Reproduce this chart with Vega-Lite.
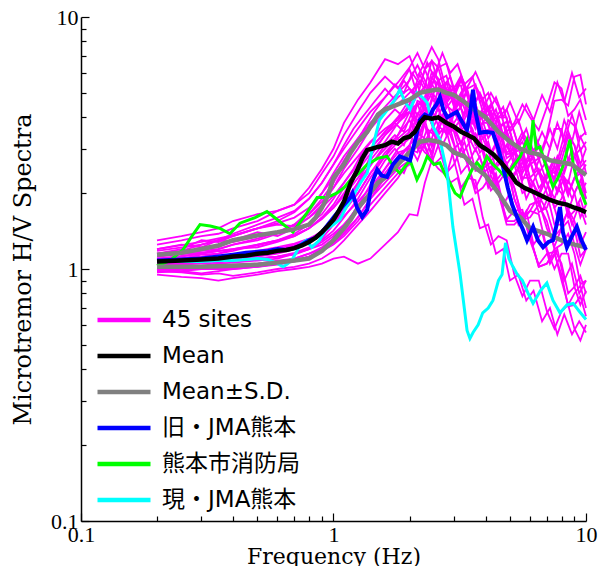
{
"$schema":"https://vega.github.io/schema/vega-lite/v6.json",
"width":505,"height":504,
"autosize":{"type":"none"},
"padding":{"left":81,"top":17,"right":20,"bottom":45},
"background":"white",
"config":{"view":{"stroke":null},
"axis":{"labelFont":"Liberation Serif","labelFontSize":22,"labelColor":"black","titleFont":"DejaVu Serif","titleFontWeight":"normal","titleColor":"black","domainColor":"black","domainWidth":1.5,"tickColor":"black","tickWidth":1.2,"grid":false,"labelOverlap":false,"labelBound":false,"labelFlush":false}},
"datasets":{
"sites":[
{"id":1,"f":0.2,"v":1.25},{"id":1,"f":0.25,"v":1.3},{"id":1,"f":0.3,"v":1.35},{"id":1,"f":0.35,"v":1.38},{"id":1,"f":0.4,"v":1.45},{"id":1,"f":0.5,"v":1.55},{"id":1,"f":0.6,"v":1.7},{"id":1,"f":0.7,"v":1.8},{"id":1,"f":0.8,"v":2.0},{"id":1,"f":0.9,"v":2.4},{"id":1,"f":1,"v":2.8},{"id":1,"f":1.1,"v":3.4},{"id":1,"f":1.25,"v":4.2},{"id":1,"f":1.4,"v":5.0},{"id":1,"f":1.6,"v":5.8},{"id":1,"f":1.8,"v":5.2},{"id":1,"f":2,"v":6.2},{"id":1,"f":2.3,"v":5.3},{"id":1,"f":2.6,"v":6.3},{"id":1,"f":3,"v":5.0},{"id":1,"f":3.4,"v":5.1},{"id":1,"f":3.9,"v":4.0},{"id":1,"f":4.5,"v":3.8},{"id":1,"f":5.2,"v":2.9},{"id":1,"f":6,"v":2.9},{"id":1,"f":7,"v":2.7},{"id":1,"f":8,"v":3.6},{"id":1,"f":9,"v":2.8},{"id":1,"f":10,"v":3.0},
{"id":2,"f":0.2,"v":0.98},{"id":2,"f":0.25,"v":0.97},{"id":2,"f":0.3,"v":0.95},{"id":2,"f":0.35,"v":0.96},{"id":2,"f":0.4,"v":0.94},{"id":2,"f":0.5,"v":0.97},{"id":2,"f":0.6,"v":1.0},{"id":2,"f":0.7,"v":1.02},{"id":2,"f":0.8,"v":1.05},{"id":2,"f":0.9,"v":1.1},{"id":2,"f":1,"v":1.18},{"id":2,"f":1.1,"v":1.3},{"id":2,"f":1.25,"v":1.5},{"id":2,"f":1.4,"v":1.7},{"id":2,"f":1.6,"v":2.0},{"id":2,"f":1.8,"v":2.3},{"id":2,"f":2,"v":2.7},{"id":2,"f":2.3,"v":2.9},{"id":2,"f":2.6,"v":3.6},{"id":2,"f":3,"v":3.6},{"id":2,"f":3.4,"v":3.7},{"id":2,"f":3.9,"v":3.0},{"id":2,"f":4.5,"v":2.7},{"id":2,"f":5.2,"v":1.9},{"id":2,"f":6,"v":1.7},{"id":2,"f":7,"v":1.2},{"id":2,"f":8,"v":1.15},{"id":2,"f":9,"v":0.85},{"id":2,"f":10,"v":0.82},
{"id":3,"f":0.2,"v":1.12},{"id":3,"f":0.25,"v":1.15},{"id":3,"f":0.3,"v":1.2},{"id":3,"f":0.35,"v":1.22},{"id":3,"f":0.4,"v":1.3},{"id":3,"f":0.5,"v":1.4},{"id":3,"f":0.6,"v":1.35},{"id":3,"f":0.7,"v":1.45},{"id":3,"f":0.8,"v":1.6},{"id":3,"f":0.9,"v":1.8},{"id":3,"f":1,"v":2.1},{"id":3,"f":1.1,"v":2.5},{"id":3,"f":1.25,"v":3.0},{"id":3,"f":1.4,"v":3.6},{"id":3,"f":1.6,"v":4.2},{"id":3,"f":1.8,"v":4.8},{"id":3,"f":2,"v":5.2},{"id":3,"f":2.3,"v":6.2},{"id":3,"f":2.6,"v":5.5},{"id":3,"f":3,"v":5.3},{"id":3,"f":3.4,"v":4.0},{"id":3,"f":3.9,"v":3.8},{"id":3,"f":4.5,"v":2.8},{"id":3,"f":5.2,"v":2.7},{"id":3,"f":6,"v":2.1},{"id":3,"f":7,"v":2.1},{"id":3,"f":8,"v":2.3},{"id":3,"f":9,"v":2.3},{"id":3,"f":10,"v":1.9},
{"id":4,"f":0.2,"v":1.05},{"id":4,"f":0.25,"v":1.06},{"id":4,"f":0.3,"v":1.08},{"id":4,"f":0.35,"v":1.1},{"id":4,"f":0.4,"v":1.1},{"id":4,"f":0.5,"v":1.12},{"id":4,"f":0.6,"v":1.15},{"id":4,"f":0.7,"v":1.2},{"id":4,"f":0.8,"v":1.28},{"id":4,"f":0.9,"v":1.4},{"id":4,"f":1,"v":1.55},{"id":4,"f":1.1,"v":1.7},{"id":4,"f":1.25,"v":2.0},{"id":4,"f":1.4,"v":2.4},{"id":4,"f":1.6,"v":2.8},{"id":4,"f":1.8,"v":3.2},{"id":4,"f":2,"v":3.5},{"id":4,"f":2.3,"v":4.4},{"id":4,"f":2.6,"v":4.4},{"id":4,"f":3,"v":4.6},{"id":4,"f":3.4,"v":3.8},{"id":4,"f":3.9,"v":3.6},{"id":4,"f":4.5,"v":2.8},{"id":4,"f":5.2,"v":2.6},{"id":4,"f":6,"v":2.1},{"id":4,"f":7,"v":2.2},{"id":4,"f":8,"v":1.9},{"id":4,"f":9,"v":2.0},{"id":4,"f":10,"v":1.8},
{"id":5,"f":0.2,"v":1.1},{"id":5,"f":0.25,"v":1.12},{"id":5,"f":0.3,"v":1.15},{"id":5,"f":0.35,"v":1.2},{"id":5,"f":0.4,"v":1.25},{"id":5,"f":0.5,"v":1.3},{"id":5,"f":0.6,"v":1.38},{"id":5,"f":0.7,"v":1.5},{"id":5,"f":0.8,"v":1.65},{"id":5,"f":0.9,"v":1.85},{"id":5,"f":1,"v":2.1},{"id":5,"f":1.1,"v":2.4},{"id":5,"f":1.25,"v":2.8},{"id":5,"f":1.4,"v":3.2},{"id":5,"f":1.6,"v":3.6},{"id":5,"f":1.8,"v":3.9},{"id":5,"f":2,"v":4.5},{"id":5,"f":2.3,"v":4.6},{"id":5,"f":2.6,"v":5.4},{"id":5,"f":3,"v":4.8},{"id":5,"f":3.4,"v":4.9},{"id":5,"f":3.9,"v":4.3},{"id":5,"f":4.5,"v":4.4},{"id":5,"f":5.2,"v":3.8},{"id":5,"f":6,"v":4.0},{"id":5,"f":7,"v":4.4},{"id":5,"f":8,"v":5.2},{"id":5,"f":9,"v":4.3},{"id":5,"f":10,"v":3.9},
{"id":6,"f":0.2,"v":1.0},{"id":6,"f":0.25,"v":1.02},{"id":6,"f":0.3,"v":1.03},{"id":6,"f":0.35,"v":1.05},{"id":6,"f":0.4,"v":1.06},{"id":6,"f":0.5,"v":1.08},{"id":6,"f":0.6,"v":1.1},{"id":6,"f":0.7,"v":1.15},{"id":6,"f":0.8,"v":1.2},{"id":6,"f":0.9,"v":1.32},{"id":6,"f":1,"v":1.5},{"id":6,"f":1.1,"v":1.75},{"id":6,"f":1.25,"v":2.2},{"id":6,"f":1.4,"v":2.8},{"id":6,"f":1.6,"v":3.4},{"id":6,"f":1.8,"v":3.8},{"id":6,"f":2,"v":4.2},{"id":6,"f":2.3,"v":3.7},{"id":6,"f":2.6,"v":3.5},{"id":6,"f":3,"v":2.7},{"id":6,"f":3.4,"v":2.3},{"id":6,"f":3.9,"v":1.6},{"id":6,"f":4.5,"v":1.35},{"id":6,"f":5.2,"v":0.95},{"id":6,"f":6,"v":0.9},{"id":6,"f":7,"v":0.68},{"id":6,"f":8,"v":0.68},{"id":6,"f":9,"v":0.58},{"id":6,"f":10,"v":0.6},
{"id":7,"f":0.2,"v":1.15},{"id":7,"f":0.25,"v":1.2},{"id":7,"f":0.3,"v":1.3},{"id":7,"f":0.35,"v":1.28},{"id":7,"f":0.4,"v":1.35},{"id":7,"f":0.5,"v":1.45},{"id":7,"f":0.6,"v":1.5},{"id":7,"f":0.7,"v":1.48},{"id":7,"f":0.8,"v":1.6},{"id":7,"f":0.9,"v":1.75},{"id":7,"f":1,"v":1.95},{"id":7,"f":1.1,"v":2.2},{"id":7,"f":1.25,"v":2.6},{"id":7,"f":1.4,"v":3.0},{"id":7,"f":1.6,"v":3.5},{"id":7,"f":1.8,"v":4.0},{"id":7,"f":2,"v":4.2},{"id":7,"f":2.3,"v":4.4},{"id":7,"f":2.6,"v":4.3},{"id":7,"f":3,"v":4.2},{"id":7,"f":3.4,"v":3.4},{"id":7,"f":3.9,"v":3.5},{"id":7,"f":4.5,"v":2.8},{"id":7,"f":5.2,"v":2.7},{"id":7,"f":6,"v":2.3},{"id":7,"f":7,"v":2.3},{"id":7,"f":8,"v":2.4},{"id":7,"f":9,"v":2.8},{"id":7,"f":10,"v":2.4},
{"id":8,"f":0.2,"v":1.03},{"id":8,"f":0.25,"v":1.04},{"id":8,"f":0.3,"v":1.05},{"id":8,"f":0.35,"v":1.06},{"id":8,"f":0.4,"v":1.08},{"id":8,"f":0.5,"v":1.1},{"id":8,"f":0.6,"v":1.12},{"id":8,"f":0.7,"v":1.16},{"id":8,"f":0.8,"v":1.22},{"id":8,"f":0.9,"v":1.3},{"id":8,"f":1,"v":1.42},{"id":8,"f":1.1,"v":1.6},{"id":8,"f":1.25,"v":1.9},{"id":8,"f":1.4,"v":2.3},{"id":8,"f":1.6,"v":2.8},{"id":8,"f":1.8,"v":3.4},{"id":8,"f":2,"v":4.2},{"id":8,"f":2.3,"v":4.4},{"id":8,"f":2.6,"v":5.2},{"id":8,"f":3,"v":4.4},{"id":8,"f":3.4,"v":4.2},{"id":8,"f":3.9,"v":3.0},{"id":8,"f":4.5,"v":2.6},{"id":8,"f":5.2,"v":1.9},{"id":8,"f":6,"v":1.8},{"id":8,"f":7,"v":1.45},{"id":8,"f":8,"v":1.45},{"id":8,"f":9,"v":1.25},{"id":8,"f":10,"v":1.2},
{"id":9,"f":0.2,"v":0.95},{"id":9,"f":0.25,"v":0.93},{"id":9,"f":0.3,"v":0.92},{"id":9,"f":0.35,"v":0.9},{"id":9,"f":0.4,"v":0.92},{"id":9,"f":0.5,"v":0.95},{"id":9,"f":0.6,"v":0.98},{"id":9,"f":0.7,"v":1.0},{"id":9,"f":0.8,"v":1.02},{"id":9,"f":0.9,"v":1.05},{"id":9,"f":1,"v":1.1},{"id":9,"f":1.1,"v":1.12},{"id":9,"f":1.25,"v":1.05},{"id":9,"f":1.4,"v":1.1},{"id":9,"f":1.6,"v":1.25},{"id":9,"f":1.8,"v":1.4},{"id":9,"f":2,"v":1.65},{"id":9,"f":2.3,"v":2.2},{"id":9,"f":2.6,"v":2.5},{"id":9,"f":3,"v":3.0},{"id":9,"f":3.4,"v":2.6},{"id":9,"f":3.9,"v":2.4},{"id":9,"f":4.5,"v":2.0},{"id":9,"f":5.2,"v":1.7},{"id":9,"f":6,"v":1.3},{"id":9,"f":7,"v":1.15},{"id":9,"f":8,"v":0.9},{"id":9,"f":9,"v":0.8},{"id":9,"f":10,"v":0.7},
{"id":10,"f":0.2,"v":1.2},{"id":10,"f":0.25,"v":1.25},{"id":10,"f":0.3,"v":1.22},{"id":10,"f":0.35,"v":1.3},{"id":10,"f":0.4,"v":1.38},{"id":10,"f":0.5,"v":1.5},{"id":10,"f":0.6,"v":1.6},{"id":10,"f":0.7,"v":1.7},{"id":10,"f":0.8,"v":1.9},{"id":10,"f":0.9,"v":2.2},{"id":10,"f":1,"v":2.6},{"id":10,"f":1.1,"v":3.0},{"id":10,"f":1.25,"v":3.6},{"id":10,"f":1.4,"v":4.2},{"id":10,"f":1.6,"v":4.8},{"id":10,"f":1.8,"v":5.5},{"id":10,"f":2,"v":6.3},{"id":10,"f":2.3,"v":6.2},{"id":10,"f":2.6,"v":6.3},{"id":10,"f":3,"v":5.1},{"id":10,"f":3.4,"v":5.2},{"id":10,"f":3.9,"v":4.2},{"id":10,"f":4.5,"v":4.0},{"id":10,"f":5.2,"v":3.0},{"id":10,"f":6,"v":2.9},{"id":10,"f":7,"v":2.5},{"id":10,"f":8,"v":2.9},{"id":10,"f":9,"v":3.1},{"id":10,"f":10,"v":3.0},
{"id":11,"f":0.2,"v":1.08},{"id":11,"f":0.25,"v":1.1},{"id":11,"f":0.3,"v":1.1},{"id":11,"f":0.35,"v":1.12},{"id":11,"f":0.4,"v":1.14},{"id":11,"f":0.5,"v":1.18},{"id":11,"f":0.6,"v":1.22},{"id":11,"f":0.7,"v":1.26},{"id":11,"f":0.8,"v":1.32},{"id":11,"f":0.9,"v":1.4},{"id":11,"f":1,"v":1.5},{"id":11,"f":1.1,"v":1.62},{"id":11,"f":1.25,"v":1.85},{"id":11,"f":1.4,"v":2.1},{"id":11,"f":1.6,"v":2.5},{"id":11,"f":1.8,"v":2.9},{"id":11,"f":2,"v":3.0},{"id":11,"f":2.3,"v":3.8},{"id":11,"f":2.6,"v":3.7},{"id":11,"f":3,"v":4.4},{"id":11,"f":3.4,"v":4.3},{"id":11,"f":3.9,"v":4.2},{"id":11,"f":4.5,"v":3.2},{"id":11,"f":5.2,"v":2.9},{"id":11,"f":6,"v":2.3},{"id":11,"f":7,"v":2.4},{"id":11,"f":8,"v":2.4},{"id":11,"f":9,"v":2.3},{"id":11,"f":10,"v":2.0},
{"id":12,"f":0.2,"v":1.02},{"id":12,"f":0.25,"v":1.0},{"id":12,"f":0.3,"v":1.0},{"id":12,"f":0.35,"v":1.02},{"id":12,"f":0.4,"v":1.04},{"id":12,"f":0.5,"v":1.05},{"id":12,"f":0.6,"v":1.08},{"id":12,"f":0.7,"v":1.1},{"id":12,"f":0.8,"v":1.15},{"id":12,"f":0.9,"v":1.2},{"id":12,"f":1,"v":1.28},{"id":12,"f":1.1,"v":1.4},{"id":12,"f":1.25,"v":1.6},{"id":12,"f":1.4,"v":1.9},{"id":12,"f":1.6,"v":2.2},{"id":12,"f":1.8,"v":2.5},{"id":12,"f":2,"v":2.7},{"id":12,"f":2.3,"v":3.3},{"id":12,"f":2.6,"v":3.5},{"id":12,"f":3,"v":4.2},{"id":12,"f":3.4,"v":4.6},{"id":12,"f":3.9,"v":4.7},{"id":12,"f":4.5,"v":3.6},{"id":12,"f":5.2,"v":3.1},{"id":12,"f":6,"v":2.3},{"id":12,"f":7,"v":2.0},{"id":12,"f":8,"v":1.5},{"id":12,"f":9,"v":1.45},{"id":12,"f":10,"v":1.2},
{"id":13,"f":0.2,"v":1.1},{"id":13,"f":0.25,"v":1.1},{"id":13,"f":0.3,"v":1.12},{"id":13,"f":0.35,"v":1.15},{"id":13,"f":0.4,"v":1.18},{"id":13,"f":0.5,"v":1.25},{"id":13,"f":0.6,"v":1.3},{"id":13,"f":0.7,"v":1.35},{"id":13,"f":0.8,"v":1.45},{"id":13,"f":0.9,"v":1.6},{"id":13,"f":1,"v":1.8},{"id":13,"f":1.1,"v":2.1},{"id":13,"f":1.25,"v":2.5},{"id":13,"f":1.4,"v":3.0},{"id":13,"f":1.6,"v":3.5},{"id":13,"f":1.8,"v":4.0},{"id":13,"f":2,"v":4.7},{"id":13,"f":2.3,"v":4.8},{"id":13,"f":2.6,"v":5.7},{"id":13,"f":3,"v":5.0},{"id":13,"f":3.4,"v":4.8},{"id":13,"f":3.9,"v":3.8},{"id":13,"f":4.5,"v":3.6},{"id":13,"f":5.2,"v":2.9},{"id":13,"f":6,"v":2.7},{"id":13,"f":7,"v":2.3},{"id":13,"f":8,"v":2.1},{"id":13,"f":9,"v":1.7},{"id":13,"f":10,"v":1.6},
{"id":14,"f":0.2,"v":1.04},{"id":14,"f":0.25,"v":1.05},{"id":14,"f":0.3,"v":1.06},{"id":14,"f":0.35,"v":1.08},{"id":14,"f":0.4,"v":1.1},{"id":14,"f":0.5,"v":1.1},{"id":14,"f":0.6,"v":1.12},{"id":14,"f":0.7,"v":1.14},{"id":14,"f":0.8,"v":1.2},{"id":14,"f":0.9,"v":1.25},{"id":14,"f":1,"v":1.35},{"id":14,"f":1.1,"v":1.5},{"id":14,"f":1.25,"v":1.75},{"id":14,"f":1.4,"v":2.0},{"id":14,"f":1.6,"v":2.5},{"id":14,"f":1.8,"v":3.0},{"id":14,"f":2,"v":3.3},{"id":14,"f":2.3,"v":3.9},{"id":14,"f":2.6,"v":3.4},{"id":14,"f":3,"v":3.1},{"id":14,"f":3.4,"v":2.6},{"id":14,"f":3.9,"v":2.6},{"id":14,"f":4.5,"v":2.2},{"id":14,"f":5.2,"v":2.1},{"id":14,"f":6,"v":1.7},{"id":14,"f":7,"v":1.7},{"id":14,"f":8,"v":1.45},{"id":14,"f":9,"v":1.55},{"id":14,"f":10,"v":1.4},
{"id":15,"f":0.2,"v":1.3},{"id":15,"f":0.25,"v":1.35},{"id":15,"f":0.3,"v":1.4},{"id":15,"f":0.35,"v":1.45},{"id":15,"f":0.4,"v":1.55},{"id":15,"f":0.5,"v":1.65},{"id":15,"f":0.6,"v":1.7},{"id":15,"f":0.7,"v":1.8},{"id":15,"f":0.8,"v":2.1},{"id":15,"f":0.9,"v":2.5},{"id":15,"f":1,"v":3.0},{"id":15,"f":1.1,"v":3.8},{"id":15,"f":1.25,"v":4.7},{"id":15,"f":1.4,"v":5.5},{"id":15,"f":1.6,"v":6.8},{"id":15,"f":1.8,"v":6.5},{"id":15,"f":2,"v":7.0},{"id":15,"f":2.3,"v":6.6},{"id":15,"f":2.6,"v":6.8},{"id":15,"f":3,"v":5.2},{"id":15,"f":3.4,"v":5.0},{"id":15,"f":3.9,"v":4.0},{"id":15,"f":4.5,"v":3.8},{"id":15,"f":5.2,"v":3.0},{"id":15,"f":6,"v":3.1},{"id":15,"f":7,"v":3.4},{"id":15,"f":8,"v":4.7},{"id":15,"f":9,"v":5.8},{"id":15,"f":10,"v":4.5},
{"id":16,"f":0.2,"v":1.0},{"id":16,"f":0.25,"v":0.98},{"id":16,"f":0.3,"v":0.96},{"id":16,"f":0.35,"v":0.98},{"id":16,"f":0.4,"v":1.0},{"id":16,"f":0.5,"v":1.02},{"id":16,"f":0.6,"v":1.05},{"id":16,"f":0.7,"v":1.08},{"id":16,"f":0.8,"v":1.12},{"id":16,"f":0.9,"v":1.18},{"id":16,"f":1,"v":1.25},{"id":16,"f":1.1,"v":1.35},{"id":16,"f":1.25,"v":1.55},{"id":16,"f":1.4,"v":1.8},{"id":16,"f":1.6,"v":2.1},{"id":16,"f":1.8,"v":2.4},{"id":16,"f":2,"v":2.6},{"id":16,"f":2.3,"v":3.1},{"id":16,"f":2.6,"v":3.1},{"id":16,"f":3,"v":3.5},{"id":16,"f":3.4,"v":3.1},{"id":16,"f":3.9,"v":2.9},{"id":16,"f":4.5,"v":2.3},{"id":16,"f":5.2,"v":2.1},{"id":16,"f":6,"v":1.6},{"id":16,"f":7,"v":1.55},{"id":16,"f":8,"v":1.25},{"id":16,"f":9,"v":1.15},{"id":16,"f":10,"v":0.9},
{"id":17,"f":0.2,"v":1.08},{"id":17,"f":0.25,"v":1.1},{"id":17,"f":0.3,"v":1.14},{"id":17,"f":0.35,"v":1.15},{"id":17,"f":0.4,"v":1.2},{"id":17,"f":0.5,"v":1.22},{"id":17,"f":0.6,"v":1.28},{"id":17,"f":0.7,"v":1.35},{"id":17,"f":0.8,"v":1.45},{"id":17,"f":0.9,"v":1.6},{"id":17,"f":1,"v":1.75},{"id":17,"f":1.1,"v":1.95},{"id":17,"f":1.25,"v":2.3},{"id":17,"f":1.4,"v":2.7},{"id":17,"f":1.6,"v":3.2},{"id":17,"f":1.8,"v":3.8},{"id":17,"f":2,"v":4.4},{"id":17,"f":2.3,"v":4.4},{"id":17,"f":2.6,"v":5.0},{"id":17,"f":3,"v":4.2},{"id":17,"f":3.4,"v":4.0},{"id":17,"f":3.9,"v":3.3},{"id":17,"f":4.5,"v":3.0},{"id":17,"f":5.2,"v":2.4},{"id":17,"f":6,"v":2.2},{"id":17,"f":7,"v":1.75},{"id":17,"f":8,"v":2.0},{"id":17,"f":9,"v":2.0},{"id":17,"f":10,"v":1.9},
{"id":18,"f":0.2,"v":1.05},{"id":18,"f":0.25,"v":1.07},{"id":18,"f":0.3,"v":1.08},{"id":18,"f":0.35,"v":1.1},{"id":18,"f":0.4,"v":1.12},{"id":18,"f":0.5,"v":1.15},{"id":18,"f":0.6,"v":1.18},{"id":18,"f":0.7,"v":1.22},{"id":18,"f":0.8,"v":1.28},{"id":18,"f":0.9,"v":1.38},{"id":18,"f":1,"v":1.5},{"id":18,"f":1.1,"v":1.7},{"id":18,"f":1.25,"v":2.0},{"id":18,"f":1.4,"v":2.4},{"id":18,"f":1.6,"v":2.9},{"id":18,"f":1.8,"v":3.3},{"id":18,"f":2,"v":3.6},{"id":18,"f":2.3,"v":4.5},{"id":18,"f":2.6,"v":4.4},{"id":18,"f":3,"v":5.2},{"id":18,"f":3.4,"v":5.3},{"id":18,"f":3.9,"v":5.2},{"id":18,"f":4.5,"v":4.0},{"id":18,"f":5.2,"v":3.5},{"id":18,"f":6,"v":2.7},{"id":18,"f":7,"v":2.6},{"id":18,"f":8,"v":2.7},{"id":18,"f":9,"v":3.1},{"id":18,"f":10,"v":2.6},
{"id":19,"f":0.2,"v":0.97},{"id":19,"f":0.25,"v":0.98},{"id":19,"f":0.3,"v":1.0},{"id":19,"f":0.35,"v":1.0},{"id":19,"f":0.4,"v":1.02},{"id":19,"f":0.5,"v":1.04},{"id":19,"f":0.6,"v":1.06},{"id":19,"f":0.7,"v":1.1},{"id":19,"f":0.8,"v":1.15},{"id":19,"f":0.9,"v":1.22},{"id":19,"f":1,"v":1.32},{"id":19,"f":1.1,"v":1.45},{"id":19,"f":1.25,"v":1.7},{"id":19,"f":1.4,"v":2.0},{"id":19,"f":1.6,"v":2.4},{"id":19,"f":1.8,"v":2.8},{"id":19,"f":2,"v":3.1},{"id":19,"f":2.3,"v":3.2},{"id":19,"f":2.6,"v":3.1},{"id":19,"f":3,"v":2.6},{"id":19,"f":3.4,"v":2.6},{"id":19,"f":3.9,"v":2.1},{"id":19,"f":4.5,"v":2.0},{"id":19,"f":5.2,"v":1.5},{"id":19,"f":6,"v":1.35},{"id":19,"f":7,"v":1.05},{"id":19,"f":8,"v":0.95},{"id":19,"f":9,"v":0.72},{"id":19,"f":10,"v":0.65},
{"id":20,"f":0.2,"v":1.12},{"id":20,"f":0.25,"v":1.15},{"id":20,"f":0.3,"v":1.18},{"id":20,"f":0.35,"v":1.2},{"id":20,"f":0.4,"v":1.25},{"id":20,"f":0.5,"v":1.32},{"id":20,"f":0.6,"v":1.4},{"id":20,"f":0.7,"v":1.5},{"id":20,"f":0.8,"v":1.7},{"id":20,"f":0.9,"v":2.0},{"id":20,"f":1,"v":2.4},{"id":20,"f":1.1,"v":2.8},{"id":20,"f":1.25,"v":3.3},{"id":20,"f":1.4,"v":3.8},{"id":20,"f":1.6,"v":4.2},{"id":20,"f":1.8,"v":4.5},{"id":20,"f":2,"v":5.0},{"id":20,"f":2.3,"v":4.4},{"id":20,"f":2.6,"v":4.4},{"id":20,"f":3,"v":3.7},{"id":20,"f":3.4,"v":3.7},{"id":20,"f":3.9,"v":3.3},{"id":20,"f":4.5,"v":3.3},{"id":20,"f":5.2,"v":2.9},{"id":20,"f":6,"v":2.8},{"id":20,"f":7,"v":2.5},{"id":20,"f":8,"v":3.1},{"id":20,"f":9,"v":3.7},{"id":20,"f":10,"v":3.2},
{"id":21,"f":0.2,"v":1.06},{"id":21,"f":0.25,"v":1.08},{"id":21,"f":0.3,"v":1.08},{"id":21,"f":0.35,"v":1.1},{"id":21,"f":0.4,"v":1.12},{"id":21,"f":0.5,"v":1.14},{"id":21,"f":0.6,"v":1.2},{"id":21,"f":0.7,"v":1.25},{"id":21,"f":0.8,"v":1.3},{"id":21,"f":0.9,"v":1.42},{"id":21,"f":1,"v":1.6},{"id":21,"f":1.1,"v":1.85},{"id":21,"f":1.25,"v":2.2},{"id":21,"f":1.4,"v":2.6},{"id":21,"f":1.6,"v":3.0},{"id":21,"f":1.8,"v":3.4},{"id":21,"f":2,"v":3.9},{"id":21,"f":2.3,"v":3.9},{"id":21,"f":2.6,"v":4.4},{"id":21,"f":3,"v":3.6},{"id":21,"f":3.4,"v":3.3},{"id":21,"f":3.9,"v":2.5},{"id":21,"f":4.5,"v":2.1},{"id":21,"f":5.2,"v":1.55},{"id":21,"f":6,"v":1.35},{"id":21,"f":7,"v":1.05},{"id":21,"f":8,"v":1.05},{"id":21,"f":9,"v":0.85},{"id":21,"f":10,"v":0.8},
{"id":22,"f":0.2,"v":1.15},{"id":22,"f":0.25,"v":1.18},{"id":22,"f":0.3,"v":1.25},{"id":22,"f":0.35,"v":1.3},{"id":22,"f":0.4,"v":1.28},{"id":22,"f":0.5,"v":1.35},{"id":22,"f":0.6,"v":1.4},{"id":22,"f":0.7,"v":1.5},{"id":22,"f":0.8,"v":1.65},{"id":22,"f":0.9,"v":1.9},{"id":22,"f":1,"v":2.2},{"id":22,"f":1.1,"v":2.6},{"id":22,"f":1.25,"v":3.2},{"id":22,"f":1.4,"v":3.8},{"id":22,"f":1.6,"v":4.4},{"id":22,"f":1.8,"v":5.0},{"id":22,"f":2,"v":5.6},{"id":22,"f":2.3,"v":5.6},{"id":22,"f":2.6,"v":5.6},{"id":22,"f":3,"v":4.6},{"id":22,"f":3.4,"v":4.4},{"id":22,"f":3.9,"v":3.5},{"id":22,"f":4.5,"v":3.3},{"id":22,"f":5.2,"v":2.7},{"id":22,"f":6,"v":2.6},{"id":22,"f":7,"v":2.2},{"id":22,"f":8,"v":2.3},{"id":22,"f":9,"v":2.5},{"id":22,"f":10,"v":2.2},
{"id":1,"f":2.15,"v":4.9},{"id":1,"f":2.45,"v":6.7},{"id":1,"f":2.8,"v":4.8},{"id":1,"f":3.2,"v":5.8},{"id":1,"f":3.65,"v":3.9},{"id":1,"f":4.2,"v":4.5},{"id":1,"f":4.85,"v":2.85},{"id":1,"f":5.6,"v":3.35},{"id":1,"f":6.5,"v":2.4},{"id":1,"f":7.5,"v":3.6},{"id":1,"f":8.5,"v":2.7},{"id":1,"f":9.5,"v":3.35},
{"id":2,"f":2.15,"v":3.2},{"id":2,"f":2.45,"v":2.75},{"id":2,"f":2.8,"v":4.15},{"id":2,"f":3.2,"v":3.1},{"id":2,"f":3.65,"v":3.85},{"id":2,"f":4.2,"v":2.4},{"id":2,"f":4.85,"v":2.65},{"id":2,"f":5.6,"v":1.55},{"id":2,"f":6.5,"v":1.65},{"id":2,"f":7.5,"v":1.0},{"id":2,"f":8.5,"v":1.15},{"id":2,"f":9.5,"v":0.72},
{"id":3,"f":2.15,"v":4.85},{"id":3,"f":2.45,"v":6.7},{"id":3,"f":2.8,"v":4.6},{"id":3,"f":3.2,"v":5.35},{"id":3,"f":3.65,"v":3.3},{"id":3,"f":4.2,"v":3.8},{"id":3,"f":4.85,"v":2.35},{"id":3,"f":5.6,"v":2.75},{"id":3,"f":6.5,"v":1.8},{"id":3,"f":7.5,"v":2.55},{"id":3,"f":8.5,"v":1.95},{"id":3,"f":9.5,"v":2.4},
{"id":4,"f":2.15,"v":4.55},{"id":4,"f":2.45,"v":3.75},{"id":4,"f":2.8,"v":5.2},{"id":4,"f":3.2,"v":3.55},{"id":4,"f":3.65,"v":4.25},{"id":4,"f":4.2,"v":2.7},{"id":4,"f":4.85,"v":3.1},{"id":4,"f":5.6,"v":2.0},{"id":4,"f":6.5,"v":2.45},{"id":4,"f":7.5,"v":1.75},{"id":4,"f":8.5,"v":2.25},{"id":4,"f":9.5,"v":1.6},
{"id":5,"f":2.15,"v":3.85},{"id":5,"f":2.45,"v":5.75},{"id":5,"f":2.8,"v":4.35},{"id":5,"f":3.2,"v":5.6},{"id":5,"f":3.65,"v":3.9},{"id":5,"f":4.2,"v":5.0},{"id":5,"f":4.85,"v":3.5},{"id":5,"f":5.6,"v":4.5},{"id":5,"f":6.5,"v":3.55},{"id":5,"f":7.5,"v":5.5},{"id":5,"f":8.5,"v":4.05},{"id":5,"f":9.5,"v":4.7},
{"id":6,"f":2.15,"v":4.55},{"id":6,"f":2.45,"v":3.05},{"id":6,"f":2.8,"v":3.55},{"id":6,"f":3.2,"v":2.1},{"id":6,"f":3.65,"v":2.25},{"id":6,"f":4.2,"v":1.25},{"id":6,"f":4.85,"v":1.3},{"id":6,"f":5.6,"v":0.78},{"id":6,"f":6.5,"v":0.9},{"id":6,"f":7.5,"v":0.58},{"id":6,"f":8.5,"v":0.72},{"id":6,"f":9.5,"v":0.52},
{"id":7,"f":2.15,"v":3.65},{"id":7,"f":2.45,"v":5.0},{"id":7,"f":2.8,"v":3.6},{"id":7,"f":3.2,"v":4.35},{"id":7,"f":3.65,"v":2.95},{"id":7,"f":4.2,"v":3.6},{"id":7,"f":4.85,"v":2.35},{"id":7,"f":5.6,"v":2.9},{"id":7,"f":6.5,"v":1.95},{"id":7,"f":7.5,"v":2.7},{"id":7,"f":8.5,"v":2.2},{"id":7,"f":9.5,"v":3.0},
{"id":8,"f":2.15,"v":4.95},{"id":8,"f":2.45,"v":4.1},{"id":8,"f":2.8,"v":5.5},{"id":8,"f":3.2,"v":3.65},{"id":8,"f":3.65,"v":4.15},{"id":8,"f":4.2,"v":2.4},{"id":8,"f":4.85,"v":2.6},{"id":8,"f":5.6,"v":1.57},{"id":8,"f":6.5,"v":1.86},{"id":8,"f":7.5,"v":1.23},{"id":8,"f":8.5,"v":1.55},{"id":8,"f":9.5,"v":1.04},
{"id":9,"f":2.15,"v":1.63},{"id":9,"f":2.45,"v":2.7},{"id":9,"f":2.8,"v":2.35},{"id":9,"f":3.2,"v":3.2},{"id":9,"f":3.65,"v":2.1},{"id":9,"f":4.2,"v":2.55},{"id":9,"f":4.85,"v":1.57},{"id":9,"f":5.6,"v":1.72},{"id":9,"f":6.5,"v":1.04},{"id":9,"f":7.5,"v":1.17},{"id":9,"f":8.5,"v":0.72},{"id":9,"f":9.5,"v":0.86},
{"id":10,"f":2.15,"v":7.2},{"id":10,"f":2.45,"v":5.3},{"id":10,"f":2.8,"v":6.55},{"id":10,"f":3.2,"v":4.4},{"id":10,"f":3.65,"v":5.4},{"id":10,"f":4.2,"v":3.5},{"id":10,"f":4.85,"v":4.0},{"id":10,"f":5.6,"v":2.5},{"id":10,"f":6.5,"v":3.1},{"id":10,"f":7.5,"v":2.3},{"id":10,"f":8.5,"v":3.45},{"id":10,"f":9.5,"v":2.6},
{"id":11,"f":2.15,"v":2.9},{"id":11,"f":2.45,"v":4.3},{"id":11,"f":2.8,"v":3.45},{"id":11,"f":3.2,"v":5.0},{"id":11,"f":3.65,"v":3.6},{"id":11,"f":4.2,"v":4.25},{"id":11,"f":4.85,"v":2.6},{"id":11,"f":5.6,"v":3.0},{"id":11,"f":6.5,"v":2.0},{"id":11,"f":7.5,"v":2.75},{"id":11,"f":8.5,"v":2.0},{"id":11,"f":9.5,"v":2.5},
{"id":12,"f":2.15,"v":3.45},{"id":12,"f":2.45,"v":2.9},{"id":12,"f":2.8,"v":4.45},{"id":12,"f":3.2,"v":3.75},{"id":12,"f":3.65,"v":5.35},{"id":12,"f":4.2,"v":3.5},{"id":12,"f":4.85,"v":3.85},{"id":12,"f":5.6,"v":2.3},{"id":12,"f":6.5,"v":2.5},{"id":12,"f":7.5,"v":1.5},{"id":12,"f":8.5,"v":1.7},{"id":12,"f":9.5,"v":1.12},
{"id":13,"f":2.15,"v":4.05},{"id":13,"f":2.45,"v":6.05},{"id":13,"f":2.8,"v":4.55},{"id":13,"f":3.2,"v":5.65},{"id":13,"f":3.65,"v":3.65},{"id":13,"f":4.2,"v":4.25},{"id":13,"f":4.85,"v":2.75},{"id":13,"f":5.6,"v":3.2},{"id":13,"f":6.5,"v":2.1},{"id":13,"f":7.5,"v":2.55},{"id":13,"f":8.5,"v":1.6},{"id":13,"f":9.5,"v":1.9},
{"id":14,"f":2.15,"v":4.15},{"id":14,"f":2.45,"v":3.1},{"id":14,"f":2.8,"v":3.75},{"id":14,"f":3.2,"v":2.4},{"id":14,"f":3.65,"v":3.0},{"id":14,"f":4.2,"v":2.05},{"id":14,"f":4.85,"v":2.45},{"id":14,"f":5.6,"v":1.6},{"id":14,"f":6.5,"v":1.95},{"id":14,"f":7.5,"v":1.35},{"id":14,"f":8.5,"v":1.72},{"id":14,"f":9.5,"v":1.25},
{"id":15,"f":2.15,"v":5.8},{"id":15,"f":2.45,"v":7.6},{"id":15,"f":2.8,"v":5.1},{"id":15,"f":3.2,"v":5.85},{"id":15,"f":3.65,"v":3.8},{"id":15,"f":4.2,"v":4.5},{"id":15,"f":4.85,"v":2.9},{"id":15,"f":5.6,"v":3.5},{"id":15,"f":6.5,"v":2.75},{"id":15,"f":7.5,"v":4.65},{"id":15,"f":8.5,"v":4.45},{"id":15,"f":9.5,"v":5.9},
{"id":16,"f":2.15,"v":3.3},{"id":16,"f":2.45,"v":2.65},{"id":16,"f":2.8,"v":3.8},{"id":16,"f":3.2,"v":2.8},{"id":16,"f":3.65,"v":3.45},{"id":16,"f":4.2,"v":2.2},{"id":16,"f":4.85,"v":2.55},{"id":16,"f":5.6,"v":1.57},{"id":16,"f":6.5,"v":1.8},{"id":16,"f":7.5,"v":1.2},{"id":16,"f":8.5,"v":1.38},{"id":16,"f":9.5,"v":0.87},
{"id":17,"f":2.15,"v":3.75},{"id":17,"f":2.45,"v":5.4},{"id":17,"f":2.8,"v":3.9},{"id":17,"f":3.2,"v":4.7},{"id":17,"f":3.65,"v":3.1},{"id":17,"f":4.2,"v":3.6},{"id":17,"f":4.85,"v":2.3},{"id":17,"f":5.6,"v":2.65},{"id":17,"f":6.5,"v":1.68},{"id":17,"f":7.5,"v":2.15},{"id":17,"f":8.5,"v":1.7},{"id":17,"f":9.5,"v":2.25},
{"id":18,"f":2.15,"v":4.65},{"id":18,"f":2.45,"v":3.8},{"id":18,"f":2.8,"v":5.5},{"id":18,"f":3.2,"v":4.45},{"id":18,"f":3.65,"v":6.05},{"id":18,"f":4.2,"v":3.9},{"id":18,"f":4.85,"v":4.3},{"id":18,"f":5.6,"v":2.65},{"id":18,"f":6.5,"v":3.05},{"id":18,"f":7.5,"v":2.25},{"id":18,"f":8.5,"v":3.35},{"id":18,"f":9.5,"v":2.4},
{"id":19,"f":2.15,"v":2.7},{"id":19,"f":2.45,"v":3.6},{"id":19,"f":2.8,"v":2.4},{"id":19,"f":3.2,"v":3.0},{"id":19,"f":3.65,"v":2.0},{"id":19,"f":4.2,"v":2.35},{"id":19,"f":4.85,"v":1.5},{"id":19,"f":5.6,"v":1.63},{"id":19,"f":6.5,"v":1.02},{"id":19,"f":7.5,"v":1.15},{"id":19,"f":8.5,"v":0.71},{"id":19,"f":9.5,"v":0.78},
{"id":20,"f":2.15,"v":5.4},{"id":20,"f":2.45,"v":3.75},{"id":20,"f":2.8,"v":4.65},{"id":20,"f":3.2,"v":3.15},{"id":20,"f":3.65,"v":4.0},{"id":20,"f":4.2,"v":2.8},{"id":20,"f":4.85,"v":3.55},{"id":20,"f":5.6,"v":2.4},{"id":20,"f":6.5,"v":3.05},{"id":20,"f":7.5,"v":2.4},{"id":20,"f":8.5,"v":3.9},{"id":20,"f":9.5,"v":2.95},
{"id":21,"f":2.15,"v":3.3},{"id":21,"f":2.45,"v":4.75},{"id":21,"f":2.8,"v":3.4},{"id":21,"f":3.2,"v":3.95},{"id":21,"f":3.65,"v":2.45},{"id":21,"f":4.2,"v":2.65},{"id":21,"f":4.85,"v":1.55},{"id":21,"f":5.6,"v":1.67},{"id":21,"f":6.5,"v":1.02},{"id":21,"f":7.5,"v":1.2},{"id":21,"f":8.5,"v":0.8},{"id":21,"f":9.5,"v":0.94},
{"id":22,"f":2.15,"v":6.45},{"id":22,"f":2.45,"v":4.75},{"id":22,"f":2.8,"v":5.85},{"id":22,"f":3.2,"v":3.8},{"id":22,"f":3.65,"v":4.55},{"id":22,"f":4.2,"v":2.9},{"id":22,"f":4.85,"v":3.45},{"id":22,"f":5.6,"v":2.25},{"id":22,"f":6.5,"v":2.75},{"id":22,"f":7.5,"v":1.9},{"id":22,"f":8.5,"v":2.75},{"id":22,"f":9.5,"v":2.0},
{"id":23,"f":0.2,"v":1.1},{"id":23,"f":0.3,"v":1.15},{"id":23,"f":0.4,"v":1.2},{"id":23,"f":0.5,"v":1.25},{"id":23,"f":0.6,"v":1.3},{"id":23,"f":0.7,"v":1.38},{"id":23,"f":0.8,"v":1.5},{"id":23,"f":0.9,"v":1.65},{"id":23,"f":1,"v":1.9},{"id":23,"f":1.1,"v":2.2},{"id":23,"f":1.2,"v":2.5},{"id":23,"f":1.3,"v":2.9},{"id":23,"f":1.45,"v":3.3},{"id":23,"f":1.6,"v":3.9},{"id":23,"f":1.75,"v":4.3},{"id":23,"f":1.9,"v":4.0},{"id":23,"f":2.05,"v":4.8},{"id":23,"f":2.2,"v":5.6},{"id":23,"f":2.35,"v":4.9},{"id":23,"f":2.5,"v":6.0},{"id":23,"f":2.7,"v":5.2},{"id":23,"f":2.9,"v":5.8},{"id":23,"f":3.1,"v":4.7},{"id":23,"f":3.3,"v":5.3},{"id":23,"f":3.55,"v":4.4},{"id":23,"f":3.8,"v":4.9},{"id":23,"f":4.1,"v":3.8},{"id":23,"f":4.4,"v":4.3},{"id":23,"f":4.7,"v":3.4},{"id":23,"f":5.0,"v":3.9},{"id":23,"f":5.4,"v":3.1},{"id":23,"f":5.8,"v":3.6},{"id":23,"f":6.2,"v":2.9},{"id":23,"f":6.7,"v":3.5},{"id":23,"f":7.2,"v":3.0},{"id":23,"f":7.7,"v":3.8},{"id":23,"f":8.2,"v":3.2},{"id":23,"f":8.8,"v":4.1},{"id":23,"f":9.4,"v":3.3},{"id":23,"f":10,"v":3.5},
{"id":24,"f":0.2,"v":1.0},{"id":24,"f":0.3,"v":1.01},{"id":24,"f":0.4,"v":1.02},{"id":24,"f":0.5,"v":1.03},{"id":24,"f":0.6,"v":1.05},{"id":24,"f":0.7,"v":1.08},{"id":24,"f":0.8,"v":1.12},{"id":24,"f":0.9,"v":1.18},{"id":24,"f":1,"v":1.26},{"id":24,"f":1.1,"v":1.38},{"id":24,"f":1.2,"v":1.52},{"id":24,"f":1.3,"v":1.7},{"id":24,"f":1.45,"v":2.0},{"id":24,"f":1.6,"v":2.3},{"id":24,"f":1.75,"v":2.6},{"id":24,"f":1.9,"v":2.4},{"id":24,"f":2.05,"v":2.9},{"id":24,"f":2.2,"v":3.3},{"id":24,"f":2.35,"v":2.9},{"id":24,"f":2.5,"v":3.5},{"id":24,"f":2.7,"v":3.1},{"id":24,"f":2.9,"v":3.6},{"id":24,"f":3.1,"v":2.8},{"id":24,"f":3.3,"v":3.2},{"id":24,"f":3.55,"v":2.5},{"id":24,"f":3.8,"v":2.8},{"id":24,"f":4.1,"v":2.1},{"id":24,"f":4.4,"v":2.4},{"id":24,"f":4.7,"v":1.8},{"id":24,"f":5.0,"v":2.0},{"id":24,"f":5.4,"v":1.5},{"id":24,"f":5.8,"v":1.7},{"id":24,"f":6.2,"v":1.25},{"id":24,"f":6.7,"v":1.4},{"id":24,"f":7.2,"v":1.05},{"id":24,"f":7.7,"v":1.2},{"id":24,"f":8.2,"v":0.9},{"id":24,"f":8.8,"v":1.05},{"id":24,"f":9.4,"v":0.8},{"id":24,"f":10,"v":0.9},
{"id":25,"f":0.2,"v":1.18},{"id":25,"f":0.3,"v":1.25},{"id":25,"f":0.4,"v":1.35},{"id":25,"f":0.5,"v":1.45},{"id":25,"f":0.6,"v":1.55},{"id":25,"f":0.7,"v":1.68},{"id":25,"f":0.8,"v":1.9},{"id":25,"f":0.9,"v":2.2},{"id":25,"f":1,"v":2.6},{"id":25,"f":1.1,"v":3.1},{"id":25,"f":1.2,"v":3.6},{"id":25,"f":1.3,"v":4.0},{"id":25,"f":1.45,"v":4.6},{"id":25,"f":1.6,"v":5.2},{"id":25,"f":1.75,"v":4.7},{"id":25,"f":1.9,"v":5.6},{"id":25,"f":2.05,"v":5.0},{"id":25,"f":2.2,"v":5.9},{"id":25,"f":2.35,"v":5.1},{"id":25,"f":2.5,"v":5.6},{"id":25,"f":2.7,"v":4.6},{"id":25,"f":2.9,"v":5.2},{"id":25,"f":3.1,"v":4.2},{"id":25,"f":3.3,"v":4.7},{"id":25,"f":3.55,"v":3.8},{"id":25,"f":3.8,"v":4.2},{"id":25,"f":4.1,"v":3.3},{"id":25,"f":4.4,"v":3.7},{"id":25,"f":4.7,"v":2.9},{"id":25,"f":5.0,"v":3.3},{"id":25,"f":5.4,"v":2.6},{"id":25,"f":5.8,"v":3.0},{"id":25,"f":6.2,"v":2.4},{"id":25,"f":6.7,"v":2.9},{"id":25,"f":7.2,"v":2.3},{"id":25,"f":7.7,"v":2.8},{"id":25,"f":8.2,"v":2.4},{"id":25,"f":8.8,"v":3.0},{"id":25,"f":9.4,"v":2.5},{"id":25,"f":10,"v":2.7},
{"id":26,"f":0.2,"v":1.06},{"id":26,"f":0.3,"v":1.07},{"id":26,"f":0.4,"v":1.09},{"id":26,"f":0.5,"v":1.1},{"id":26,"f":0.6,"v":1.12},{"id":26,"f":0.7,"v":1.15},{"id":26,"f":0.8,"v":1.2},{"id":26,"f":0.9,"v":1.28},{"id":26,"f":1,"v":1.38},{"id":26,"f":1.1,"v":1.5},{"id":26,"f":1.2,"v":1.65},{"id":26,"f":1.3,"v":1.8},{"id":26,"f":1.45,"v":2.05},{"id":26,"f":1.6,"v":2.3},{"id":26,"f":1.75,"v":2.6},{"id":26,"f":1.9,"v":2.9},{"id":26,"f":2.05,"v":3.2},{"id":26,"f":2.2,"v":3.0},{"id":26,"f":2.35,"v":3.6},{"id":26,"f":2.5,"v":3.4},{"id":26,"f":2.7,"v":4.1},{"id":26,"f":2.9,"v":3.7},{"id":26,"f":3.1,"v":4.6},{"id":26,"f":3.3,"v":4.1},{"id":26,"f":3.55,"v":4.9},{"id":26,"f":3.8,"v":4.0},{"id":26,"f":4.1,"v":4.4},{"id":26,"f":4.4,"v":3.5},{"id":26,"f":4.7,"v":3.8},{"id":26,"f":5.0,"v":2.9},{"id":26,"f":5.4,"v":3.2},{"id":26,"f":5.8,"v":2.5},{"id":26,"f":6.2,"v":2.8},{"id":26,"f":6.7,"v":2.2},{"id":26,"f":7.2,"v":2.5},{"id":26,"f":7.7,"v":2.0},{"id":26,"f":8.2,"v":2.3},{"id":26,"f":8.8,"v":1.9},{"id":26,"f":9.4,"v":2.2},{"id":26,"f":10,"v":1.8},
{"id":27,"f":0.2,"v":1.13},{"id":27,"f":0.3,"v":1.16},{"id":27,"f":0.4,"v":1.2},{"id":27,"f":0.5,"v":1.24},{"id":27,"f":0.6,"v":1.3},{"id":27,"f":0.7,"v":1.36},{"id":27,"f":0.8,"v":1.45},{"id":27,"f":0.9,"v":1.58},{"id":27,"f":1,"v":1.75},{"id":27,"f":1.1,"v":2.0},{"id":27,"f":1.2,"v":2.3},{"id":27,"f":1.3,"v":2.6},{"id":27,"f":1.45,"v":3.0},{"id":27,"f":1.6,"v":3.4},{"id":27,"f":1.75,"v":3.8},{"id":27,"f":1.9,"v":3.5},{"id":27,"f":2.05,"v":4.2},{"id":27,"f":2.2,"v":4.6},{"id":27,"f":2.35,"v":4.1},{"id":27,"f":2.5,"v":4.9},{"id":27,"f":2.7,"v":4.4},{"id":27,"f":2.9,"v":5.1},{"id":27,"f":3.1,"v":4.5},{"id":27,"f":3.3,"v":5.2},{"id":27,"f":3.55,"v":4.4},{"id":27,"f":3.8,"v":5.0},{"id":27,"f":4.1,"v":4.2},{"id":27,"f":4.4,"v":4.8},{"id":27,"f":4.7,"v":4.0},{"id":27,"f":5.0,"v":4.6},{"id":27,"f":5.4,"v":3.8},{"id":27,"f":5.8,"v":4.5},{"id":27,"f":6.2,"v":3.9},{"id":27,"f":6.7,"v":4.9},{"id":27,"f":7.2,"v":4.2},{"id":27,"f":7.7,"v":5.5},{"id":27,"f":8.2,"v":4.6},{"id":27,"f":8.8,"v":6.0},{"id":27,"f":9.4,"v":4.8},{"id":27,"f":10,"v":5.2},
{"id":28,"f":0.2,"v":0.99},{"id":28,"f":0.3,"v":1.0},{"id":28,"f":0.4,"v":1.0},{"id":28,"f":0.5,"v":1.02},{"id":28,"f":0.6,"v":1.04},{"id":28,"f":0.7,"v":1.07},{"id":28,"f":0.8,"v":1.12},{"id":28,"f":0.9,"v":1.2},{"id":28,"f":1,"v":1.32},{"id":28,"f":1.1,"v":1.48},{"id":28,"f":1.2,"v":1.68},{"id":28,"f":1.3,"v":1.9},{"id":28,"f":1.45,"v":2.3},{"id":28,"f":1.6,"v":2.7},{"id":28,"f":1.75,"v":3.0},{"id":28,"f":1.9,"v":2.7},{"id":28,"f":2.05,"v":3.3},{"id":28,"f":2.2,"v":2.9},{"id":28,"f":2.35,"v":3.2},{"id":28,"f":2.5,"v":2.6},{"id":28,"f":2.7,"v":2.8},{"id":28,"f":2.9,"v":2.2},{"id":28,"f":3.1,"v":2.3},{"id":28,"f":3.3,"v":1.8},{"id":28,"f":3.55,"v":1.9},{"id":28,"f":3.8,"v":1.45},{"id":28,"f":4.1,"v":1.5},{"id":28,"f":4.4,"v":1.15},{"id":28,"f":4.7,"v":1.2},{"id":28,"f":5.0,"v":0.9},{"id":28,"f":5.4,"v":0.95},{"id":28,"f":5.8,"v":0.75},{"id":28,"f":6.2,"v":0.82},{"id":28,"f":6.7,"v":0.62},{"id":28,"f":7.2,"v":0.7},{"id":28,"f":7.7,"v":0.55},{"id":28,"f":8.2,"v":0.66},{"id":28,"f":8.8,"v":0.55},{"id":28,"f":9.4,"v":0.62},{"id":28,"f":10,"v":0.56},
{"id":29,"f":0.2,"v":1.09},{"id":29,"f":0.3,"v":1.11},{"id":29,"f":0.4,"v":1.13},{"id":29,"f":0.5,"v":1.16},{"id":29,"f":0.6,"v":1.2},{"id":29,"f":0.7,"v":1.24},{"id":29,"f":0.8,"v":1.3},{"id":29,"f":0.9,"v":1.4},{"id":29,"f":1,"v":1.55},{"id":29,"f":1.1,"v":1.75},{"id":29,"f":1.2,"v":2.0},{"id":29,"f":1.3,"v":2.3},{"id":29,"f":1.45,"v":2.7},{"id":29,"f":1.6,"v":3.1},{"id":29,"f":1.75,"v":3.4},{"id":29,"f":1.9,"v":3.1},{"id":29,"f":2.05,"v":3.8},{"id":29,"f":2.2,"v":3.4},{"id":29,"f":2.35,"v":4.2},{"id":29,"f":2.5,"v":3.7},{"id":29,"f":2.7,"v":4.4},{"id":29,"f":2.9,"v":3.6},{"id":29,"f":3.1,"v":4.0},{"id":29,"f":3.3,"v":3.3},{"id":29,"f":3.55,"v":3.6},{"id":29,"f":3.8,"v":2.9},{"id":29,"f":4.1,"v":3.2},{"id":29,"f":4.4,"v":2.5},{"id":29,"f":4.7,"v":2.8},{"id":29,"f":5.0,"v":2.2},{"id":29,"f":5.4,"v":2.5},{"id":29,"f":5.8,"v":1.9},{"id":29,"f":6.2,"v":2.2},{"id":29,"f":6.7,"v":1.7},{"id":29,"f":7.2,"v":2.0},{"id":29,"f":7.7,"v":1.6},{"id":29,"f":8.2,"v":1.9},{"id":29,"f":8.8,"v":1.5},{"id":29,"f":9.4,"v":1.8},{"id":29,"f":10,"v":1.5},
{"id":30,"f":0.2,"v":1.2},{"id":30,"f":0.3,"v":1.28},{"id":30,"f":0.4,"v":1.36},{"id":30,"f":0.5,"v":1.45},{"id":30,"f":0.6,"v":1.52},{"id":30,"f":0.7,"v":1.6},{"id":30,"f":0.8,"v":1.75},{"id":30,"f":0.9,"v":2.0},{"id":30,"f":1,"v":2.3},{"id":30,"f":1.1,"v":2.7},{"id":30,"f":1.2,"v":3.1},{"id":30,"f":1.3,"v":3.5},{"id":30,"f":1.45,"v":4.2},{"id":30,"f":1.6,"v":4.8},{"id":30,"f":1.75,"v":5.4},{"id":30,"f":1.9,"v":5.0},{"id":30,"f":2.05,"v":6.0},{"id":30,"f":2.2,"v":5.4},{"id":30,"f":2.35,"v":6.6},{"id":30,"f":2.5,"v":5.8},{"id":30,"f":2.7,"v":7.2},{"id":30,"f":2.9,"v":6.0},{"id":30,"f":3.1,"v":6.5},{"id":30,"f":3.3,"v":5.4},{"id":30,"f":3.55,"v":5.8},{"id":30,"f":3.8,"v":4.6},{"id":30,"f":4.1,"v":5.0},{"id":30,"f":4.4,"v":4.0},{"id":30,"f":4.7,"v":4.4},{"id":30,"f":5.0,"v":3.5},{"id":30,"f":5.4,"v":3.9},{"id":30,"f":5.8,"v":3.1},{"id":30,"f":6.2,"v":3.5},{"id":30,"f":6.7,"v":2.9},{"id":30,"f":7.2,"v":3.6},{"id":30,"f":7.7,"v":3.0},{"id":30,"f":8.2,"v":3.9},{"id":30,"f":8.8,"v":3.2},{"id":30,"f":9.4,"v":4.2},{"id":30,"f":10,"v":3.4}
],
"mean":[
{"f":0.2,"v":1.07},{"f":0.25,"v":1.08},{"f":0.3,"v":1.09},{"f":0.35,"v":1.1},{"f":0.4,"v":1.12},{"f":0.45,"v":1.13},{"f":0.5,"v":1.15},{"f":0.55,"v":1.16},{"f":0.6,"v":1.18},{"f":0.65,"v":1.19},{"f":0.7,"v":1.21},{"f":0.75,"v":1.24},{"f":0.8,"v":1.28},{"f":0.85,"v":1.33},{"f":0.9,"v":1.4},{"f":0.95,"v":1.48},{"f":1,"v":1.57},{"f":1.05,"v":1.7},{"f":1.1,"v":1.85},{"f":1.17,"v":2.2},{"f":1.25,"v":2.5},{"f":1.3,"v":2.75},{"f":1.36,"v":2.97},{"f":1.42,"v":3.0},{"f":1.5,"v":3.05},{"f":1.6,"v":3.1},{"f":1.7,"v":3.2},{"f":1.8,"v":3.15},{"f":1.9,"v":3.3},{"f":2,"v":3.35},{"f":2.1,"v":3.5},{"f":2.2,"v":3.8},{"f":2.3,"v":4.0},{"f":2.45,"v":3.95},{"f":2.6,"v":4.0},{"f":2.8,"v":3.8},{"f":3,"v":3.67},{"f":3.2,"v":3.5},{"f":3.4,"v":3.4},{"f":3.6,"v":3.3},{"f":3.8,"v":3.1},{"f":4,"v":3.0},{"f":4.3,"v":2.85},{"f":4.6,"v":2.65},{"f":5,"v":2.4},{"f":5.3,"v":2.2},{"f":5.7,"v":2.1},{"f":6.2,"v":2.02},{"f":6.7,"v":1.95},{"f":7.2,"v":1.88},{"f":7.8,"v":1.83},{"f":8.4,"v":1.8},{"f":9,"v":1.75},{"f":9.5,"v":1.72},{"f":10,"v":1.68}
],
"sd":[
{"id":"u","f":0.2,"v":1.14},{"id":"u","f":0.25,"v":1.16},{"id":"u","f":0.3,"v":1.2},{"id":"u","f":0.35,"v":1.24},{"id":"u","f":0.4,"v":1.3},{"id":"u","f":0.45,"v":1.33},{"id":"u","f":0.5,"v":1.36},{"id":"u","f":0.6,"v":1.4},{"id":"u","f":0.7,"v":1.44},{"id":"u","f":0.8,"v":1.5},{"id":"u","f":0.85,"v":1.6},{"id":"u","f":0.9,"v":1.75},{"id":"u","f":0.95,"v":1.95},{"id":"u","f":1,"v":2.3},{"id":"u","f":1.05,"v":2.45},{"id":"u","f":1.1,"v":2.6},{"id":"u","f":1.17,"v":2.9},{"id":"u","f":1.25,"v":3.2},{"id":"u","f":1.36,"v":3.5},{"id":"u","f":1.5,"v":4.1},{"id":"u","f":1.6,"v":4.3},{"id":"u","f":1.7,"v":4.4},{"id":"u","f":1.8,"v":4.5},{"id":"u","f":2,"v":4.7},{"id":"u","f":2.2,"v":5.0},{"id":"u","f":2.4,"v":5.1},{"id":"u","f":2.6,"v":5.15},{"id":"u","f":2.8,"v":5.0},{"id":"u","f":3,"v":4.9},{"id":"u","f":3.3,"v":4.6},{"id":"u","f":3.6,"v":4.3},{"id":"u","f":4,"v":4.0},{"id":"u","f":4.5,"v":3.5},{"id":"u","f":5,"v":3.2},{"id":"u","f":5.5,"v":3.0},{"id":"u","f":6,"v":2.9},{"id":"u","f":6.5,"v":2.85},{"id":"u","f":7.2,"v":2.7},{"id":"u","f":8,"v":2.65},{"id":"u","f":8.8,"v":2.6},{"id":"u","f":9.5,"v":2.45},{"id":"u","f":10,"v":2.36},
{"id":"l","f":0.2,"v":1.02},{"id":"l","f":0.3,"v":1.02},{"id":"l","f":0.4,"v":1.03},{"id":"l","f":0.5,"v":1.04},{"id":"l","f":0.6,"v":1.06},{"id":"l","f":0.7,"v":1.08},{"id":"l","f":0.8,"v":1.1},{"id":"l","f":0.9,"v":1.18},{"id":"l","f":1,"v":1.3},{"id":"l","f":1.1,"v":1.45},{"id":"l","f":1.17,"v":1.57},{"id":"l","f":1.25,"v":1.75},{"id":"l","f":1.36,"v":1.93},{"id":"l","f":1.5,"v":2.2},{"id":"l","f":1.6,"v":2.3},{"id":"l","f":1.8,"v":2.6},{"id":"l","f":2,"v":2.9},{"id":"l","f":2.2,"v":3.2},{"id":"l","f":2.4,"v":3.25},{"id":"l","f":2.6,"v":3.2},{"id":"l","f":2.8,"v":3.1},{"id":"l","f":3,"v":2.9},{"id":"l","f":3.3,"v":2.8},{"id":"l","f":3.6,"v":2.55},{"id":"l","f":4,"v":2.35},{"id":"l","f":4.5,"v":2.0},{"id":"l","f":5,"v":1.7},{"id":"l","f":5.5,"v":1.6},{"id":"l","f":6,"v":1.45},{"id":"l","f":7,"v":1.38},{"id":"l","f":8,"v":1.3},{"id":"l","f":9,"v":1.25},{"id":"l","f":10,"v":1.22}
],
"blue":[
{"f":0.2,"v":1.08},{"f":0.25,"v":1.09},{"f":0.3,"v":1.1},{"f":0.35,"v":1.12},{"f":0.4,"v":1.14},{"f":0.45,"v":1.16},{"f":0.5,"v":1.17},{"f":0.55,"v":1.18},{"f":0.6,"v":1.2},{"f":0.65,"v":1.19},{"f":0.7,"v":1.21},{"f":0.75,"v":1.25},{"f":0.8,"v":1.3},{"f":0.85,"v":1.33},{"f":0.9,"v":1.4},{"f":0.95,"v":1.5},{"f":1,"v":1.6},{"f":1.08,"v":1.76},{"f":1.17,"v":1.93},{"f":1.19,"v":2.0},{"f":1.24,"v":1.75},{"f":1.3,"v":1.61},{"f":1.36,"v":1.72},{"f":1.42,"v":2.2},{"f":1.49,"v":2.48},{"f":1.55,"v":2.35},{"f":1.63,"v":2.32},{"f":1.72,"v":2.6},{"f":1.83,"v":2.8},{"f":1.92,"v":2.75},{"f":2.01,"v":2.7},{"f":2.1,"v":3.2},{"f":2.2,"v":3.9},{"f":2.3,"v":4.1},{"f":2.4,"v":4.0},{"f":2.48,"v":4.3},{"f":2.56,"v":4.5},{"f":2.64,"v":4.8},{"f":2.72,"v":4.3},{"f":2.82,"v":4.0},{"f":2.95,"v":4.1},{"f":3.08,"v":4.2},{"f":3.2,"v":3.9},{"f":3.3,"v":3.7},{"f":3.38,"v":3.57},{"f":3.48,"v":4.2},{"f":3.57,"v":5.15},{"f":3.65,"v":4.2},{"f":3.8,"v":3.47},{"f":4,"v":3.5},{"f":4.28,"v":3.47},{"f":4.5,"v":3.0},{"f":4.69,"v":2.55},{"f":4.9,"v":2.1},{"f":5.1,"v":1.8},{"f":5.33,"v":1.61},{"f":5.6,"v":1.45},{"f":5.84,"v":1.3},{"f":6,"v":1.38},{"f":6.17,"v":1.47},{"f":6.45,"v":1.3},{"f":6.76,"v":1.22},{"f":7.1,"v":1.28},{"f":7.4,"v":1.3},{"f":7.65,"v":1.5},{"f":7.89,"v":1.76},{"f":8.1,"v":1.4},{"f":8.4,"v":1.22},{"f":8.8,"v":1.35},{"f":9.2,"v":1.47},{"f":9.6,"v":1.3},{"f":10,"v":1.19}
],
"green":[
{"f":0.2,"v":1.03},{"f":0.225,"v":1.08},{"f":0.253,"v":1.19},{"f":0.275,"v":1.35},{"f":0.296,"v":1.5},{"f":0.325,"v":1.48},{"f":0.355,"v":1.45},{"f":0.389,"v":1.38},{"f":0.426,"v":1.52},{"f":0.489,"v":1.6},{"f":0.545,"v":1.69},{"f":0.614,"v":1.54},{"f":0.691,"v":1.4},{"f":0.785,"v":1.67},{"f":0.861,"v":1.92},{"f":0.942,"v":1.92},{"f":1.03,"v":2.0},{"f":1.1,"v":2.1},{"f":1.17,"v":2.26},{"f":1.26,"v":2.4},{"f":1.36,"v":2.6},{"f":1.5,"v":2.75},{"f":1.63,"v":2.8},{"f":1.73,"v":2.55},{"f":1.83,"v":2.4},{"f":1.92,"v":2.55},{"f":2.01,"v":2.7},{"f":2.14,"v":2.26},{"f":2.25,"v":2.5},{"f":2.35,"v":2.8},{"f":2.5,"v":2.6},{"f":2.64,"v":2.64},{"f":2.75,"v":2.4},{"f":2.89,"v":2.2},{"f":3.03,"v":2.0},{"f":3.17,"v":1.93},{"f":3.38,"v":2.26},{"f":3.55,"v":2.5},{"f":3.7,"v":2.64},{"f":3.87,"v":2.5},{"f":4.05,"v":2.8},{"f":4.28,"v":2.6},{"f":4.5,"v":2.48},{"f":4.8,"v":2.3},{"f":5.14,"v":2.55},{"f":5.5,"v":2.8},{"f":5.84,"v":3.26},{"f":6.0,"v":2.9},{"f":6.17,"v":3.9},{"f":6.35,"v":3.0},{"f":6.58,"v":3.05},{"f":7.0,"v":2.5},{"f":7.4,"v":2.12},{"f":7.75,"v":2.3},{"f":8.1,"v":2.55},{"f":8.64,"v":3.26},{"f":8.9,"v":2.6},{"f":9.2,"v":2.26},{"f":9.6,"v":2.0},{"f":10,"v":1.8}
],
"cyan":[
{"f":0.2,"v":1.07},{"f":0.25,"v":1.07},{"f":0.3,"v":1.07},{"f":0.35,"v":1.08},{"f":0.4,"v":1.08},{"f":0.45,"v":1.09},{"f":0.5,"v":1.1},{"f":0.55,"v":1.09},{"f":0.6,"v":1.05},{"f":0.632,"v":1.02},{"f":0.66,"v":1.05},{"f":0.69,"v":1.1},{"f":0.74,"v":1.25},{"f":0.78,"v":1.3},{"f":0.82,"v":1.22},{"f":0.88,"v":1.3},{"f":0.93,"v":1.43},{"f":1.0,"v":1.5},{"f":1.06,"v":1.57},{"f":1.12,"v":1.75},{"f":1.19,"v":1.93},{"f":1.28,"v":2.2},{"f":1.36,"v":2.4},{"f":1.43,"v":3.05},{"f":1.52,"v":3.9},{"f":1.67,"v":4.4},{"f":1.75,"v":4.7},{"f":1.83,"v":5.15},{"f":1.92,"v":4.6},{"f":2.01,"v":4.3},{"f":2.14,"v":5.0},{"f":2.25,"v":4.8},{"f":2.35,"v":4.57},{"f":2.48,"v":3.67},{"f":2.64,"v":3.26},{"f":2.82,"v":2.4},{"f":2.97,"v":1.47},{"f":3.17,"v":0.96},{"f":3.38,"v":0.57},{"f":3.47,"v":0.53},{"f":3.57,"v":0.56},{"f":3.74,"v":0.6},{"f":3.9,"v":0.67},{"f":4.1,"v":0.7},{"f":4.28,"v":0.75},{"f":4.5,"v":0.9},{"f":4.65,"v":0.95},{"f":4.8,"v":1.27},{"f":4.95,"v":1.1},{"f":5.14,"v":1.02},{"f":5.35,"v":0.95},{"f":5.6,"v":0.9},{"f":5.9,"v":0.8},{"f":6.17,"v":0.73},{"f":6.6,"v":0.82},{"f":7.0,"v":0.88},{"f":7.4,"v":0.75},{"f":7.89,"v":0.67},{"f":8.4,"v":0.72},{"f":8.9,"v":0.73},{"f":9.4,"v":0.68},{"f":10,"v":0.63}
]
},
"encoding":{
"x":{"field":"f","type":"quantitative","scale":{"type":"log","domain":[0.1,10],"nice":false},
"axis":{"values":[0.1,0.2,0.3,0.4,0.5,0.6,0.7,0.8,0.9,1,2,3,4,5,6,7,8,9,10],"labelExpr":"datum.value == 0.1 ? '0.1' : datum.value == 1 ? '1' : datum.value == 10 ? '10' : ''","title":"Frequency (Hz)","titleFontSize":22,"titlePadding":-2,"tickSize":{"condition":{"test":"datum.value == 0.1 || datum.value == 1 || datum.value == 10","value":-8},"value":-5},"labelPadding":11}},
"y":{"field":"v","type":"quantitative","scale":{"type":"log","domain":[0.1,10],"nice":false},
"axis":{"values":[0.1,0.2,0.3,0.4,0.5,0.6,0.7,0.8,0.9,1,2,3,4,5,6,7,8,9,10],"labelExpr":"datum.value == 0.1 ? '0.1' : datum.value == 1 ? '1' : datum.value == 10 ? '10' : ''","title":"Microtremor H/V Spectra","titleFontSize":24,"titlePadding":15,"tickSize":{"condition":{"test":"datum.value == 0.1 || datum.value == 1 || datum.value == 10","value":-8},"value":-5},"labelPadding":11}}
},
"layer":[
{"data":{"name":"sites"},"mark":{"type":"line","strokeWidth":1.8},
"encoding":{"color":{"datum":"45 sites","type":"nominal","scale":{"domain":["45 sites","Mean","Mean±S.D.","旧・JMA熊本","熊本市消防局","現・JMA熊本"],"range":["#ff00ff","#000000","#808080","#0000ff","#00ff00","#00ffff"]},
"legend":{"title":null,"orient":"none","legendX":14,"legendY":291,"symbolType":"stroke","symbolSize":2809,"symbolStrokeWidth":4.5,"clipHeight":24,"rowPadding":12,"labelOffset":9,"labelFont":"DejaVu Sans, Noto Sans CJK JP","labelFontSize":23,"labelColor":"black","padding":0,"labelLimit":300}},
"detail":{"field":"id","type":"nominal"}}},
{"data":{"name":"green"},"mark":{"type":"line","strokeWidth":3},"encoding":{"color":{"datum":"熊本市消防局","type":"nominal"}}},
{"data":{"name":"cyan"},"mark":{"type":"line","strokeWidth":3},"encoding":{"color":{"datum":"現・JMA熊本","type":"nominal"}}},
{"data":{"name":"sd"},"mark":{"type":"line","strokeWidth":4.5},"encoding":{"color":{"datum":"Mean±S.D.","type":"nominal"},"detail":{"field":"id","type":"nominal"}}},
{"data":{"name":"blue"},"mark":{"type":"line","strokeWidth":4},"encoding":{"color":{"datum":"旧・JMA熊本","type":"nominal"}}},
{"data":{"name":"mean"},"mark":{"type":"line","strokeWidth":4.5},"encoding":{"color":{"datum":"Mean","type":"nominal"}}}
]
}
